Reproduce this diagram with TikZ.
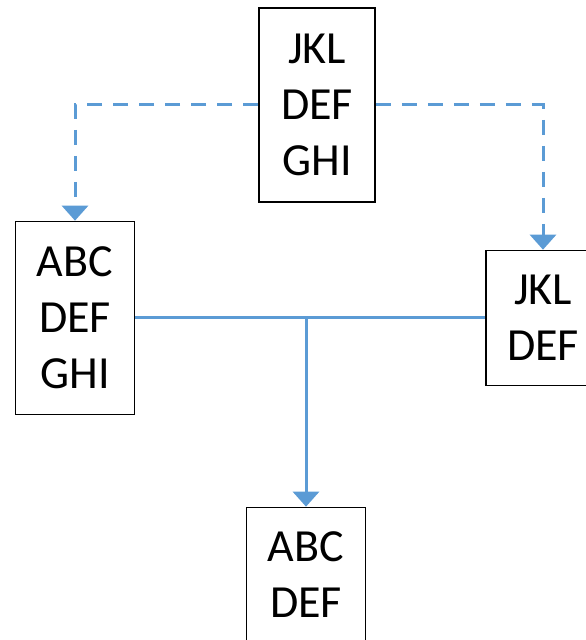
\documentclass[tikz,border=0pt]{standalone}
\usepackage{fontspec}
\setmainfont{Carlito}
\usetikzlibrary{arrows.meta}
\definecolor{linkblue}{HTML}{5B9BD5}
\tikzset{
  box/.style={draw=black, line width=1.6pt, align=center, inner sep=0pt,
    font=\fontsize{46}{56}\selectfont},
  dashlink/.style={linkblue, line width=3pt, dash pattern=on 15pt off 11pt,
    -{Triangle[width=26pt,length=15pt]}},
  solidlink/.style={linkblue, line width=3pt},
}

\begin{document}
\begin{tikzpicture}[x=1pt,y=1pt]
  \useasboundingbox (0,0) rectangle (586,640);
  \begin{scope}
    \clip (0,0) rectangle (586,640);

    % boxes
    \node[box, minimum width=116pt, minimum height=194pt] (jklTop) at (317,535) {JKL\\DEF\\GHI};
    \node[box, minimum width=119pt, minimum height=193pt] (abcLeft) at (75,322) {ABC\\DEF\\GHI};
    \node[box, minimum width=114pt, minimum height=135pt] (jklRight) at (543,322) {JKL\\DEF};
    \node[box, minimum width=119pt, minimum height=135pt] (abcBottom) at (306,65) {ABC\\DEF};

    % dashed links from the top box
    \draw[dashlink] (jklTop.west) -| (abcLeft.north);
    \draw[dashlink] (jklTop.east) -| (jklRight.north);

    % solid link and branch down
    \draw[solidlink] (abcLeft.east) -- (jklRight.west);
    \coordinate (branch) at (abcBottom.north |- abcLeft.east);
    \draw[solidlink, -{Triangle[width=26pt,length=15pt]}] (branch) -- (abcBottom.north);
  \end{scope}
\end{tikzpicture}
\end{document}
